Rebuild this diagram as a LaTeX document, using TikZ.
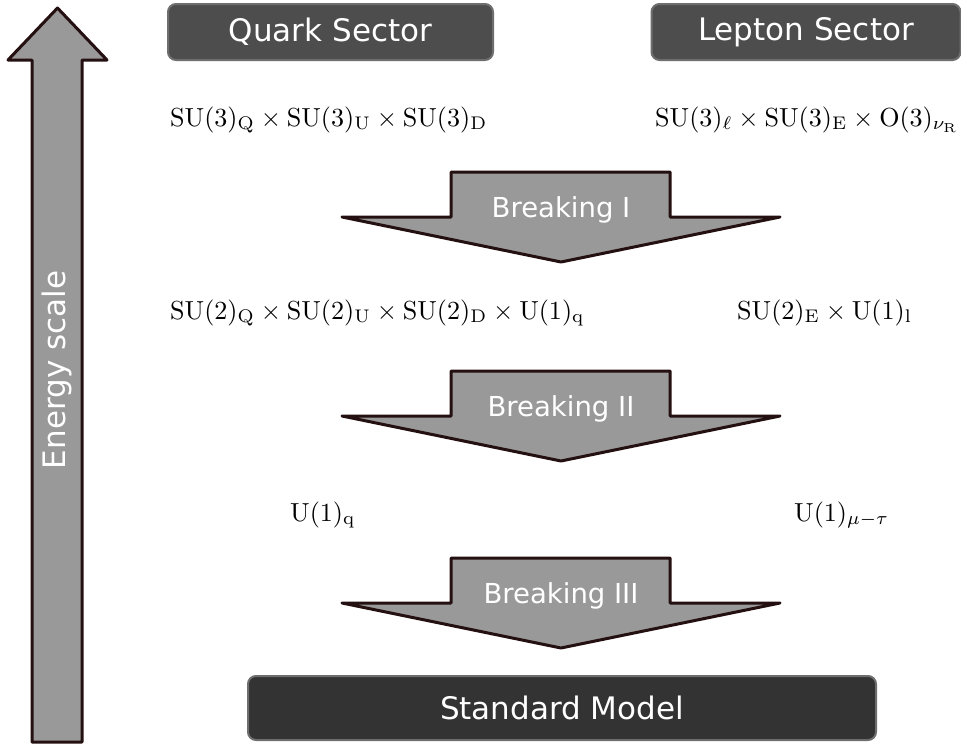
\documentclass[tikz,border=0pt]{standalone}
\usepackage{fontspec}
\newfontfamily\dvs{DejaVu Sans}
\definecolor{arrfill}{HTML}{999999}
\definecolor{arrline}{HTML}{241010}
\definecolor{boxfill}{HTML}{4D4D4D}
\definecolor{boxline}{HTML}{6E6E6E}
\definecolor{smfill}{HTML}{333333}
\newcommand{\grp}[1]{\scalebox{2.61}{$#1$}}
\begin{document}
\begin{tikzpicture}[x=1pt,y=-1pt,
  bigarrow/.style={fill=arrfill,draw=arrline,line width=3pt,line join=round},
  sector/.style={fill=boxfill,draw=boxline,line width=2pt,rounded corners=8pt,
    text=white,font=\dvs\fontsize{31}{36}\selectfont,inner sep=0pt},
  mathlbl/.style={inner sep=0pt,anchor=base west},
  brklbl/.style={text=white,font=\dvs\fontsize{27.5}{32}\selectfont,inner sep=0pt,anchor=base}]
\useasboundingbox (0,0) rectangle (961,744);

% energy scale arrow
\draw[bigarrow] (57.5,8) -- (107,60) -- (82,60) -- (82,742) -- (32,742) -- (32,60) -- (8,60) -- cycle;
\node[rotate=90,text=white,font=\dvs\fontsize{31}{36}\selectfont,inner sep=0pt] (energy) at (57,370) {Energy scale};

% sector headers
\node[sector,minimum width=325pt,minimum height=56pt] (quark) at (330.5,32) {Quark Sector};
\node[sector,minimum width=309pt,minimum height=56pt] (lepton) at (806,32) {Lepton Sector};
\node[sector,fill=smfill,minimum width=628pt,minimum height=64pt] (sm) at (562,708) {Standard Model};

% breaking arrows
\foreach \y/\lbl/\nm in {172/Breaking I/b1, 371/Breaking II/b2, 558/Breaking III/b3}{
  \draw[bigarrow] (451,\y) -- (670,\y) -- (670,\y+45) -- (780,\y+45) -- (561,\y+90)
    -- (342,\y+45) -- (451,\y+45) -- cycle;
  \node[brklbl] (\nm) at (561,\y+45) {\lbl};
}

% groups
\node[mathlbl] (q1) at (170,126) {\grp{\mathrm{SU}(3)_{\mathrm{Q}}\times\mathrm{SU}(3)_{\mathrm{U}}\times\mathrm{SU}(3)_{\mathrm{D}}}};
\node[mathlbl] (l1) at (655,126) {\grp{\mathrm{SU}(3)_{\ell}\times\mathrm{SU}(3)_{\mathrm{E}}\times\mathrm{O}(3)_{\nu_{\mathrm{R}}}}};
\node[mathlbl] (q2) at (170,319) {\grp{\mathrm{SU}(2)_{\mathrm{Q}}\times\mathrm{SU}(2)_{\mathrm{U}}\times\mathrm{SU}(2)_{\mathrm{D}}\times\mathrm{U}(1)_{\mathrm{q}}}};
\node[mathlbl] (l2) at (737,319) {\grp{\mathrm{SU}(2)_{\mathrm{E}}\times\mathrm{U}(1)_{\mathrm{l}}}};
\node[mathlbl] (q3) at (290,521) {\grp{\mathrm{U}(1)_{\mathrm{q}}}};
\node[mathlbl] (l3) at (794,521) {\grp{\mathrm{U}(1)_{\mu-\tau}}};
\end{tikzpicture}
\end{document}
